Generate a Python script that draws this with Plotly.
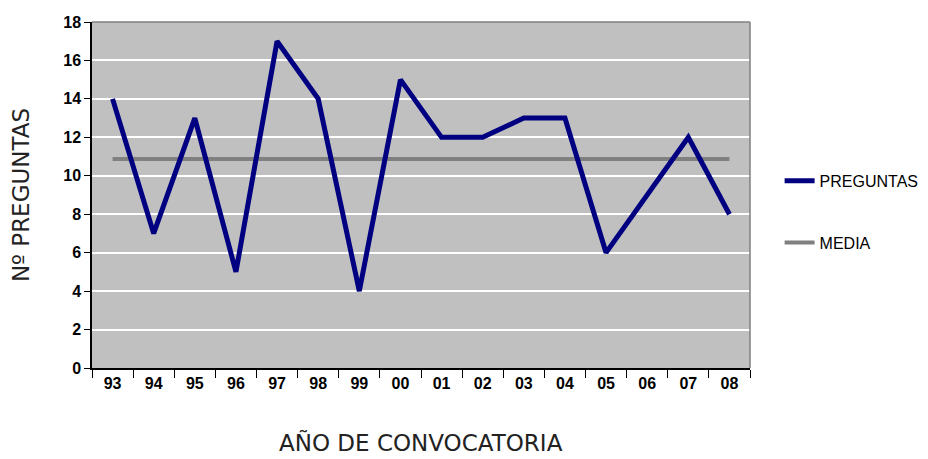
import plotly.graph_objects as go

anios = ["93", "94", "95", "96", "97", "98", "99", "00", "01", "02", "03", "04", "05", "06", "07", "08"]
preguntas = [14, 7, 13, 5, 17, 14, 4, 15, 12, 12, 13, 13, 6, 9, 12, 8]
media = [10.875, 10.875, 10.875, 10.875, 10.875, 10.875, 10.875, 10.875,
         10.875, 10.875, 10.875, 10.875, 10.875, 10.875, 10.875, 10.875]
y_ticks = [0, 2, 4, 6, 8, 10, 12, 14, 16, 18]

fig = go.Figure()
fig.add_trace(go.Scatter(x=anios, y=media, mode="lines", name="MEDIA",
                         line=dict(color="#808080", width=4), legendgroup="b",
                         legendrank=2))
fig.add_trace(go.Scatter(x=anios, y=preguntas, mode="lines", name="PREGUNTAS",
                         line=dict(color="#000080", width=5), legendgroup="a",
                         legendrank=1))

fig.update_layout(
    width=920, height=451,
    margin=dict(l=84, r=178, t=14, b=91, autoexpand=False),
    paper_bgcolor="white",
    plot_bgcolor="#C0C0C0",
    showlegend=True,
    legend=dict(x=1.045, y=0.59, xanchor="left", yanchor="top",
                font=dict(family="Liberation Sans", size=16, color="black"),
                tracegroupgap=38, bgcolor="rgba(0,0,0,0)"),
    xaxis=dict(type="category", range=[-0.5, 15.5], tickson="boundaries",
               ticks="outside", ticklen=8, tickcolor="black", tickwidth=1,
               showgrid=False, showline=True, linecolor="black", linewidth=1.5,
               automargin=False,
               tickfont=dict(family="Liberation Sans", size=16, color="black", weight="bold")),
    yaxis=dict(range=[0, 18], tickvals=y_ticks, ticks="outside", ticklen=6,
               tickcolor="black", showgrid=True, gridcolor="white", gridwidth=1.5,
               showline=True, linecolor="black", linewidth=1.5, zeroline=False,
               automargin=False,
               tickfont=dict(family="Liberation Sans", size=16, color="black", weight="bold"),
               title=dict(text="Nº PREGUNTAS", standoff=30,
                          font=dict(family="DejaVu Sans", size=23, color="#222222"))),
    annotations=[
        dict(text="AÑO DE CONVOCATORIA", xref="paper", yref="paper",
             x=0.5, y=-0.214, xanchor="center", yanchor="middle", showarrow=False,
             borderpad=0,
             font=dict(family="DejaVu Sans", size=23, color="#222222")),
    ],
    shapes=[
        dict(type="line", xref="paper", yref="paper", x0=0, x1=1, y0=1, y1=1,
             line=dict(color="#808080", width=1.5)),
        dict(type="line", xref="paper", yref="paper", x0=1, x1=1, y0=0, y1=1,
             line=dict(color="#808080", width=1.5)),
    ],
)

fig.write_html("out.html")
